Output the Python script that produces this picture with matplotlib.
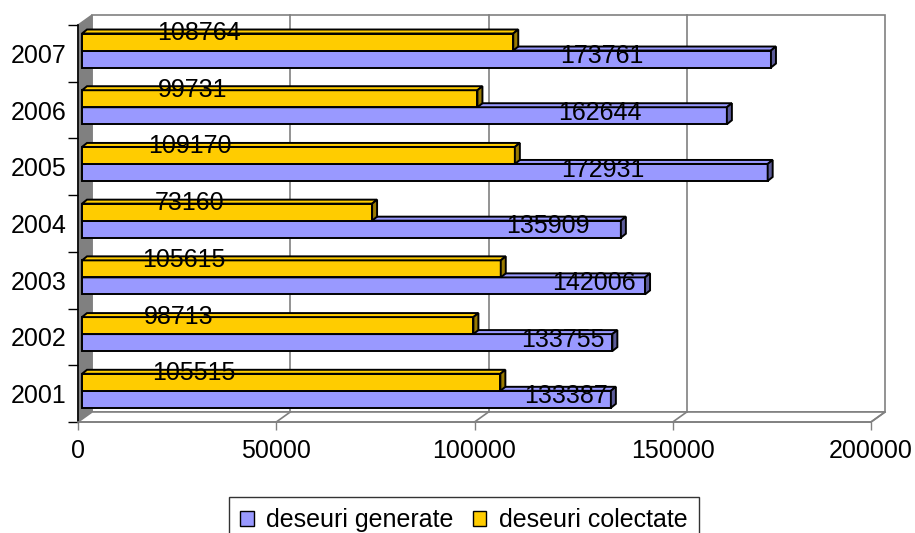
import matplotlib.pyplot as plt
from matplotlib.patches import Polygon, Patch, Rectangle

plt.rcParams['font.family'] = ['Liberation Sans', 'DejaVu Sans']

years = ['2001', '2002', '2003', '2004', '2005', '2006', '2007']
generated = [133387, 133755, 142006, 135909, 172931, 162644, 173761]
collected = [105515, 98713, 105615, 73160, 109170, 99731, 108764]

# where the value labels sit along each row (x in axis units)
collected_label_x = [29300, 25500, 26700, 28200, 28200, 28800, 30500]
generated_label_x = [123100, 122300, 130100, 118500, 132400, 131700, 132200]

YELLOW, YELLOW_SIDE = '#FFCC00', '#997A00'
PURPLE, PURPLE_SIDE = '#9999FF', '#5C5C99'
GRAY = '#808080'
FS = 18

XMAX = 200000
fig = plt.figure(figsize=(9.15, 5.33), dpi=100)
ax = fig.add_axes([78 / 915, 111 / 533, 793 / 915, 397 / 533])
ax.set_xlim(0, XMAX)
ax.set_ylim(-0.5, 6.5)

# pixel -> data helpers for the fake 3d depth
px_x = XMAX / 793
px_y = 7 / 397
wx, wy = 14 * px_x, 10 * px_y      # wall depth
bx = 4 * px_x                      # bars sit a bit behind the front plane
dx, dy = 5 * px_x, 4 * px_y        # bar depth

# back wall, side wall, floor
ax.add_patch(Rectangle((wx, -0.5 + wy), XMAX, 7, facecolor='white',
                       edgecolor=GRAY, lw=1.2, clip_on=False, zorder=0))
ax.add_patch(Polygon([(0, -0.5), (wx, -0.5 + wy), (wx, 6.5 + wy), (0, 6.5)],
                     facecolor=GRAY, edgecolor=GRAY, lw=1, clip_on=False, zorder=1))
ax.add_patch(Polygon([(0, -0.5), (XMAX, -0.5), (XMAX + wx, -0.5 + wy), (wx, -0.5 + wy)],
                     facecolor='white', edgecolor=GRAY, lw=1.2, clip_on=False, zorder=1))
for v in [50000, 100000, 150000]:
    ax.plot([v + wx, v + wx], [-0.5 + wy, 6.5 + wy], color=GRAY, lw=1.2,
            clip_on=False, zorder=1)
    ax.plot([v, v + wx], [-0.5, -0.5 + wy], color=GRAY, lw=1.2,
            clip_on=False, zorder=1)
ax.plot([XMAX, XMAX + wx], [-0.5, -0.5 + wy], color=GRAY, lw=1.2, clip_on=False, zorder=1)


def bar3d(y0, h, val, face, side, z):
    ax.barh(y0, val, height=h, left=bx, align='edge', color=face,
            edgecolor='black', lw=1.4, zorder=z, clip_on=False)
    x1 = bx + val
    top = y0 + h
    ax.add_patch(Polygon([(bx, top), (bx + dx, top + dy), (x1 + dx, top + dy), (x1, top)],
                         facecolor=face, edgecolor='black', lw=1.4, zorder=z, clip_on=False))
    ax.add_patch(Polygon([(x1, y0), (x1 + dx, y0 + dy), (x1 + dx, top + dy), (x1, top)],
                         facecolor=side, edgecolor='black', lw=1.4, zorder=z, clip_on=False))


bh = 0.3
for i in range(len(years)):
    mid = i + 0.05
    bar3d(mid - bh, bh, generated[i], PURPLE, PURPLE_SIDE, 3)
    bar3d(mid, bh, collected[i], YELLOW, YELLOW_SIDE, 4)
    ax.text(collected_label_x[i], mid + bh + 0.01, str(collected[i]), fontsize=FS,
            ha='center', va='center', zorder=6)
    ax.text(generated_label_x[i], mid - 0.1, str(generated[i]), fontsize=FS,
            ha='center', va='center', zorder=6)

# axes and ticks
for s in ['top', 'right']:
    ax.spines[s].set_visible(False)
ax.spines['left'].set_color('black')
ax.spines['left'].set_linewidth(1.2)
ax.spines['bottom'].set_color(GRAY)
ax.spines['bottom'].set_linewidth(1.2)
ax.spines['left'].set_zorder(2)

ax.set_xticks([0, 50000, 100000, 150000, 200000])
ax.set_xticklabels(['0', '50000', '100000', '150000', '200000'], fontsize=FS)
ax.tick_params(axis='x', length=6, width=1, color=GRAY, pad=6)

ax.set_yticks([y - 0.5 for y in range(8)])
ax.set_yticklabels([])
ax.tick_params(axis='y', which='major', length=7, width=1, color='black')
ax.set_yticks(range(len(years)), minor=True)
ax.set_yticklabels(years, minor=True, fontsize=FS)
ax.tick_params(axis='y', which='minor', length=0, pad=8.5)

handles = [Patch(facecolor=PURPLE, edgecolor='black', lw=1),
           Patch(facecolor=YELLOW, edgecolor='black', lw=1)]
leg = fig.legend(handles, ['deseuri generate', 'deseuri colectate'], ncol=2,
                 loc='upper left', bbox_to_anchor=(229 / 915, 1 - 497 / 533),
                 fontsize=FS, frameon=True, fancybox=False, edgecolor='black',
                 handlelength=0.55, handleheight=0.55, handletextpad=0.5,
                 columnspacing=0.75, borderpad=0.45, borderaxespad=0)
leg.get_frame().set_linewidth(1)

fig.savefig('out.png', dpi=100)
